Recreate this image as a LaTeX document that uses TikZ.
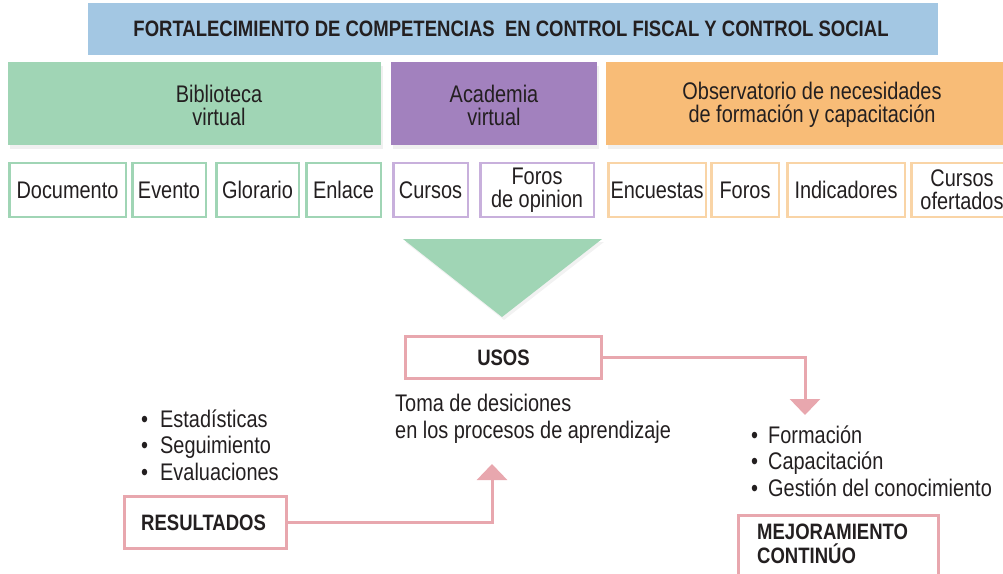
\documentclass[tikz,border=0pt]{standalone}
\usepackage{fontspec}
\setmainfont{Liberation Sans}[FakeStretch=0.83]
\usetikzlibrary{arrows.meta,shadows}
\definecolor{tblue}{HTML}{A3C7E3}
\definecolor{tgreen}{HTML}{A0D5B5}
\definecolor{tpurple}{HTML}{A281BE}
\definecolor{torange}{HTML}{F8BC77}
\definecolor{lpurple}{HTML}{C8B0DC}
\definecolor{lorange}{HTML}{F9D4A6}
\definecolor{tpink}{HTML}{E8A7AE}
\definecolor{ink}{HTML}{231F20}
\tikzset{
  every node/.style={text=ink},
  hdr/.style={inner sep=0pt, minimum height=83pt, draw=none,
     drop shadow={shadow xshift=2pt, shadow yshift=-4pt, opacity=0.12}},
  htext/.style={align=center, font=\fontsize{24}{23}\selectfont, inner sep=0pt},
  itembox/.style={draw, line width=2.5pt, fill=white, minimum height=54pt,
     inner sep=0pt, align=center, font=\fontsize{24}{23}\selectfont},
  pinkbox/.style={draw=tpink, line width=3pt, fill=white, inner sep=0pt},
  boldtext/.style={font=\fontsize{22.3}{24}\selectfont\bfseries, inner sep=0pt, align=left},
  body/.style={font=\fontsize{24}{26.5}\selectfont, inner sep=0pt, align=left, anchor=base west},
  conn/.style={draw=tpink, line width=3pt, -{Triangle[width=30pt,length=16pt]}},
}
\begin{document}
\begin{tikzpicture}[x=1pt,y=-1pt]
\useasboundingbox (0,0) rectangle (1003,573);
% title
\node[fill=tblue, minimum width=850pt, minimum height=52pt, inner sep=0pt] (title) at (513,29) {};
\node[font=\fontsize{22.3}{24}\selectfont\bfseries, inner sep=0pt] (titletxt) at (511,29) {FORTALECIMIENTO DE COMPETENCIAS\ \ EN CONTROL FISCAL Y CONTROL SOCIAL};
% header boxes
\node[hdr, fill=tgreen, minimum width=373pt] (bib) at (194.5,103.5) {};
\node[hdr, fill=tpurple, minimum width=206pt] (acad) at (494,103.5) {};
\node[hdr, fill=torange, minimum width=410pt] (obs) at (811,103.5) {};
\node[htext] (bibt) at (219,105) {Biblioteca\\virtual};
\node[htext] (acadt) at (494,105) {Academia\\virtual};
\node[htext] (obst) at (812,105) {Observatorio de necesidades\\de formación y capacitación};
% items
\node[itembox, draw=tgreen, minimum width=116.5pt] (doc) at (67.5,190) {Documento};
\node[itembox, draw=tgreen, minimum width=73.5pt] (eve) at (169,190) {Evento};
\node[itembox, draw=tgreen, minimum width=82.5pt] (glo) at (257.5,190) {Glorario};
\node[itembox, draw=tgreen, minimum width=74.5pt] (enl) at (343.5,190) {Enlace};
\node[itembox, draw=lpurple, minimum width=74.5pt] (cur) at (430.5,190) {Cursos};
\node[itembox, draw=lpurple, minimum width=113.5pt] (for) at (537,190) {Foros\\de opinion};
\node[itembox, draw=lorange, minimum width=97.5pt] (enc) at (657,190) {Encuestas};
\node[itembox, draw=lorange, minimum width=67.5pt] (for2) at (745,190) {Foros};
\node[itembox, draw=lorange, minimum width=117.5pt] (ind) at (846,190) {Indicadores};
\node[itembox, draw=lorange, minimum width=101.5pt] (curof) at (962,190) {Cursos\\ofertados};
% triangle
\fill[tgreen, drop shadow={shadow xshift=2pt, shadow yshift=-3pt, opacity=0.10}] (403,239) -- (602,239) -- (502,317) -- cycle;
% USOS
\node[pinkbox, minimum width=196pt, minimum height=42pt] (usos) at (503.5,357.5) {};
\node[boldtext] (usost) at (503.5,357.5) {USOS};
\node[body] (toma) at (395,438) {Toma de desiciones\\en los procesos de aprendizaje};
% RESULTADOS
\node[pinkbox, minimum width=162pt, minimum height=52pt] (res) at (205.5,522.5) {};
\node[boldtext, anchor=west] (rest) at (141,522.5) {RESULTADOS};
\node[body] (resl) at (141,480) {\makebox[19pt][l]{\textbullet}Estadísticas\\\makebox[19pt][l]{\textbullet}Seguimiento\\\makebox[19pt][l]{\textbullet}Evaluaciones};
% MEJORAMIENTO
\draw[draw=tpink, line width=3pt] (738,580) |- (938,515) -- (938,580);
\node[boldtext, anchor=base west] (mej) at (757,563) {MEJORAMIENTO\\CONTINÚO};
\node[body] (mejl) at (751,496) {\makebox[17pt][l]{\textbullet}Formación\\\makebox[17pt][l]{\textbullet}Capacitación\\\makebox[17pt][l]{\textbullet}Gestión del conocimiento};
% connectors
\coordinate (a1) at (805,415);
\coordinate (a2) at (492,464);
\draw[conn] (usos.east) -| (a1);
\draw[conn] (res.east) -| (a2);
\end{tikzpicture}
\end{document}
